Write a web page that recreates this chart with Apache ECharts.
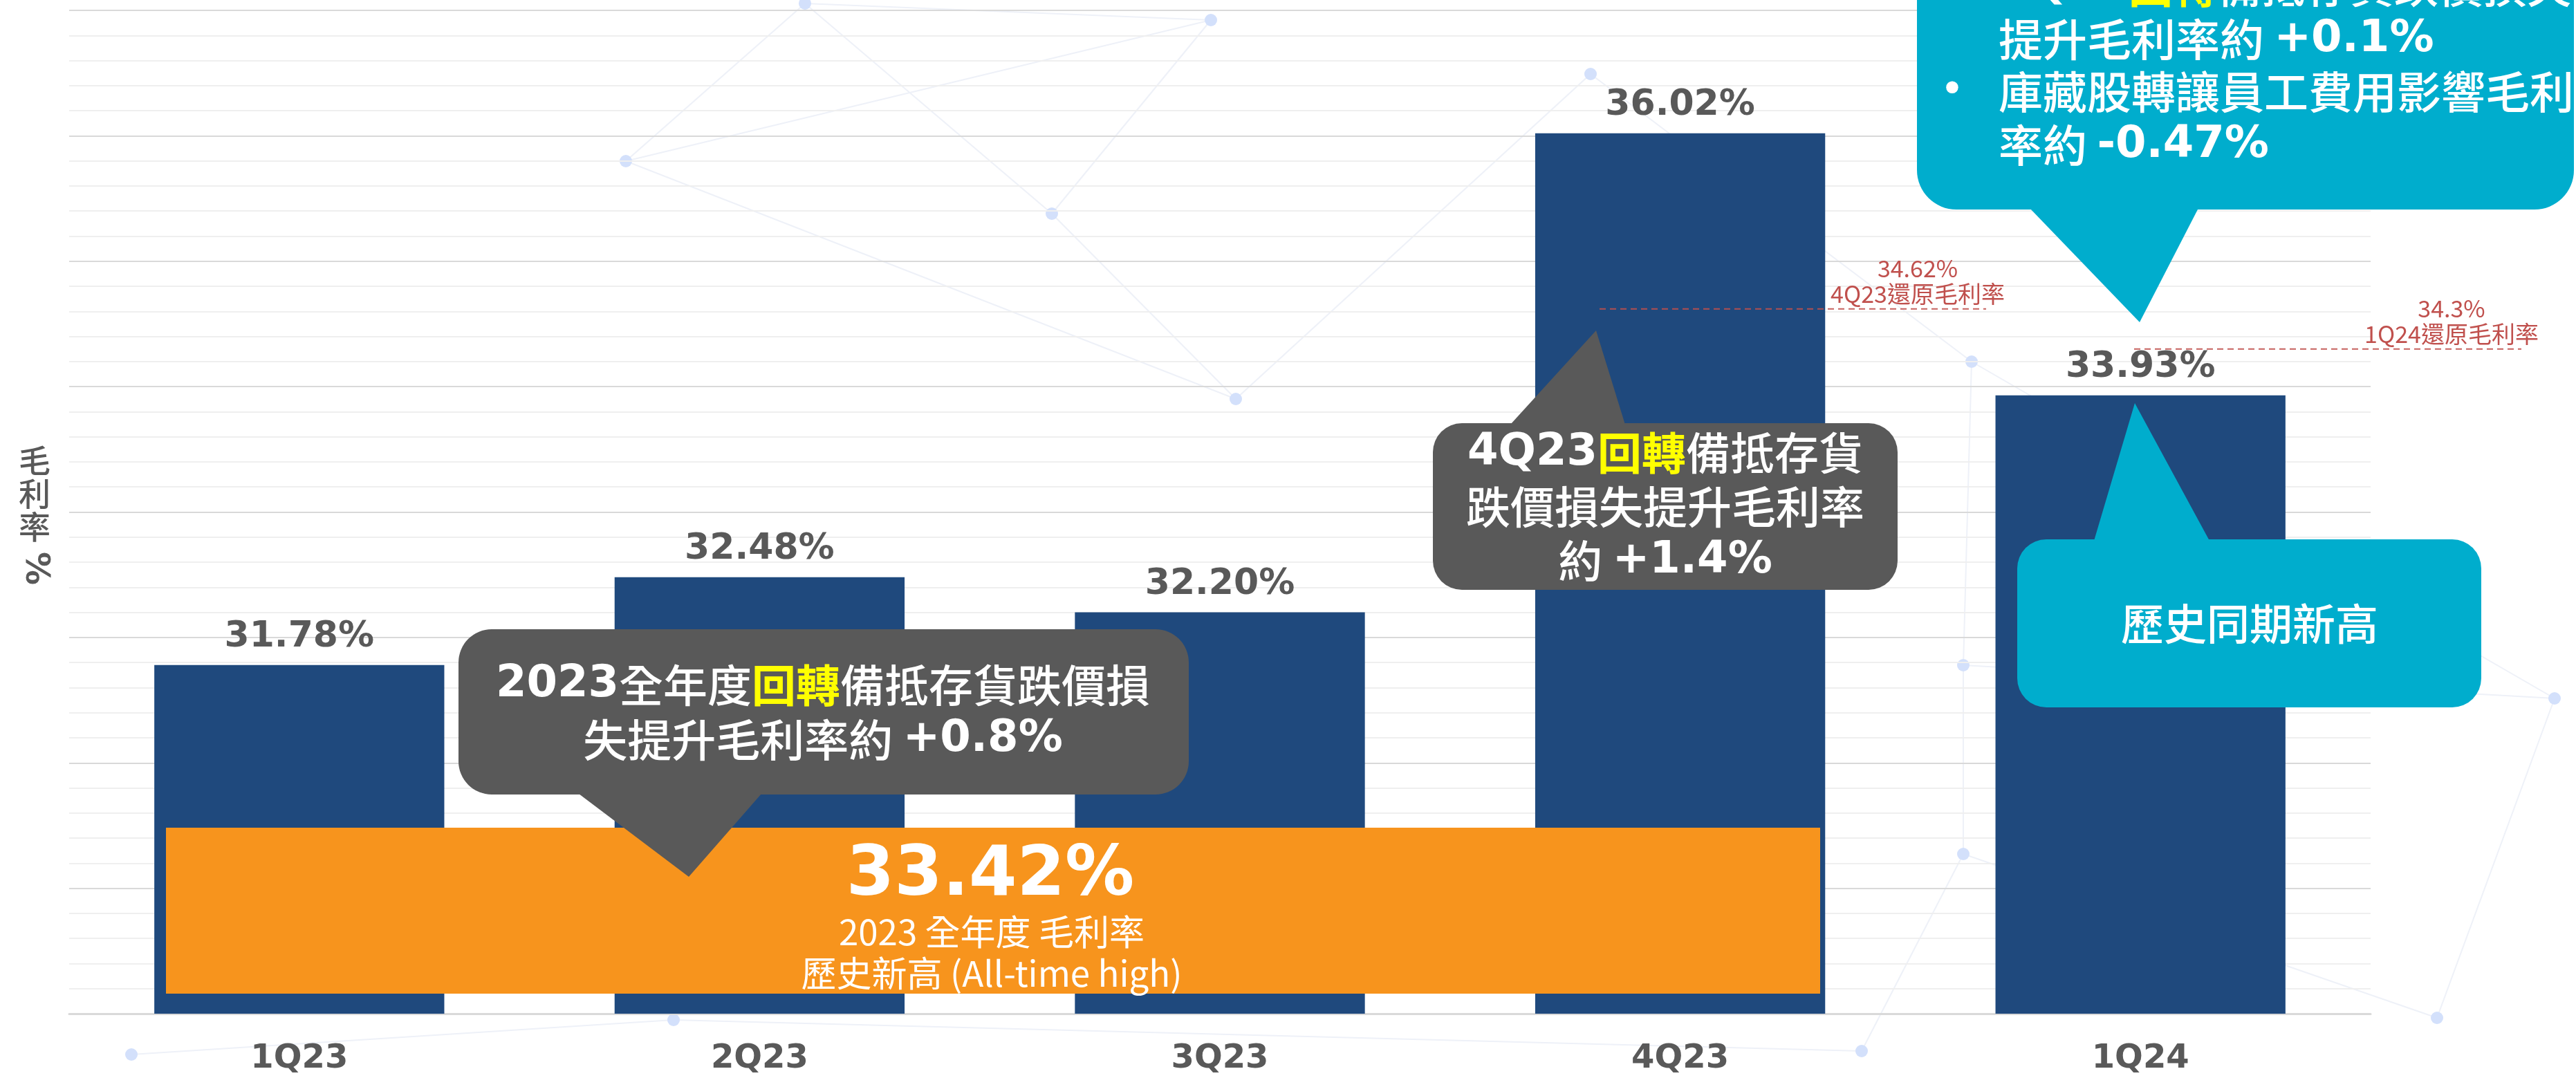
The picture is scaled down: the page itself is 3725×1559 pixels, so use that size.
<!DOCTYPE html>
<html><head><meta charset="utf-8">
<script src="https://cdn.jsdelivr.net/npm/echarts@6/dist/echarts.min.js"></script>
<style>html,body{margin:0;padding:0;background:#fff;overflow:hidden}#c{width:3725px;height:1559px}</style>
</head><body><div id="c"></div>
<script>
// ---- data ----
const categories = ['1Q23', '2Q23', '3Q23', '4Q23', '1Q24'];
const grossMargin = [31.78, 32.48, 32.20, 36.02, 33.93];
const restoredValues = [34.62, 34.3];
const restoredLabels = ['4Q23還原毛利率', '1Q24還原毛利率'];
const annualValue = 33.42;
const annualLines = ['2023 全年度 毛利率', '歷史新高 (All-time high)'];
const yAxisName = ['毛', '利', '率', '%'];
const yMin = 29, yMax = 37, yInterval = 1;

const LAT = '"DejaVu Sans", Verdana, sans-serif';
const CJK = '"Noto Sans CJK TC", "Noto Sans CJK SC", sans-serif';
const GREY = '#595959', NAVY = '#1F497D', TEAL = '#00ADCD', ORANGE = '#F7941D', RED = '#C0504D';

const chart = echarts.init(document.getElementById('c'));
chart.setOption({
  animation: false,
  backgroundColor: '#ffffff',
  grid: { left: 100, right: 297, top: 15, bottom: 93 },
  xAxis: {
    type: 'category', data: categories,
    axisTick: { show: false },
    axisLine: { lineStyle: { color: '#d9d9d9', width: 3 } },
    axisLabel: { margin: 42, fontSize: 48, fontWeight: 'bold', fontFamily: LAT, color: GREY }
  },
  yAxis: {
    type: 'value', min: yMin, max: yMax, interval: yInterval,
    axisLabel: { show: false }, axisLine: { show: false }, axisTick: { show: false },
    splitLine: { lineStyle: { color: '#d9d9d9', width: 2 } },
    minorTick: { show: false, splitNumber: 5 },
    minorSplitLine: { show: true, lineStyle: { color: '#efefef', width: 2 } }
  },
  series: [{
    type: 'bar', data: grossMargin, barCategoryGap: '37%', z: 2,
    itemStyle: { color: NAVY },
    label: {
      show: true, position: 'top', distance: 14,
      formatter: p => p.value.toFixed(2) + '%',
      fontSize: 52, fontWeight: 'bold', fontFamily: LAT, color: GREY
    }
  }]
});

function yPx(v) { return chart.convertToPixel({ yAxisIndex: 0 }, v); }
function txt(x, y, text, rich, extra) {
  return Object.assign({
    type: 'text', z: 20,
    style: {
      x: x, y: y, text: text, rich: rich,
      align: 'center', verticalAlign: 'middle', textAlign: 'center', textVerticalAlign: 'middle'
    }
  }, extra || {});
}
function callout(rect, r, tri, color, z) {
  return [
    { type: 'rect', z: z, shape: { x: rect[0], y: rect[1], width: rect[2], height: rect[3], r: r }, style: { fill: color } },
    { type: 'polygon', z: z, shape: { points: tri }, style: { fill: color } }
  ];
}
const richBase = (size, lh) => ({
  b: { fontFamily: LAT, fontWeight: 'bold', fontSize: size, fill: '#ffffff', lineHeight: lh },
  n: { fontFamily: CJK, fontWeight: 500, fontSize: size, fill: '#ffffff', lineHeight: lh },
  y: { fontFamily: CJK, fontWeight: 'bold', fontSize: size, fill: '#FFFF00', lineHeight: lh }
});

// faint background network decoration
const bgNodes = [[1164, 5], [1751, 29], [905, 233], [1521, 309], [2300, 107], [2851, 523], [2839, 962],
  [2839, 1235], [3694, 1010], [3524, 1472], [190, 1525], [2692, 1520], [974, 1475], [1787, 577]];
const bgLinks = [[0, 2], [0, 3], [0, 1], [1, 2], [1, 3], [3, 13], [4, 5], [5, 6], [6, 7], [5, 8], [6, 8], [7, 9], [8, 9],
  [10, 12], [12, 11], [11, 7], [13, 4], [2, 13]];
const g = [];
bgLinks.forEach(l => {
  const a = bgNodes[l[0]], b = bgNodes[l[1]];
  g.push({ type: 'line', z: -5, shape: { x1: a[0], y1: a[1], x2: b[0], y2: b[1] }, style: { stroke: '#eef1f8', lineWidth: 2 } });
});
bgNodes.forEach(n => g.push({ type: 'circle', z: -4, shape: { cx: n[0], cy: n[1], r: 9 }, style: { fill: '#d3e0fb' } }));

// y-axis name
g.push({ type: 'text', z: 20, style: { x: 50, y: 714, text: yAxisName.slice(0, 3).join('\n'), fontFamily: CJK, fontWeight: 500, fontSize: 46, lineHeight: 48, fill: GREY,
  align: 'center', verticalAlign: 'middle', textAlign: 'center', textVerticalAlign: 'middle' } });
g.push({ type: 'text', z: 20, x: 50, y: 822, rotation: -Math.PI / 2,
  style: { x: 0, y: 0, text: yAxisName[3], fontFamily: LAT, fontWeight: 'bold', fontSize: 48, fill: GREY,
    align: 'center', verticalAlign: 'middle', textAlign: 'center', textVerticalAlign: 'middle' } });

// restored gross margin dashed lines
const rl = [{ x1: 2313, x2: 2872, tx: 2773 }, { x1: 3086, x2: 3646, tx: 3545 }];
restoredValues.forEach((v, i) => {
  const y = yPx(v);
  g.push({ type: 'line', z: 8, shape: { x1: rl[i].x1, y1: y, x2: rl[i].x2, y2: y }, style: { stroke: RED, lineWidth: 2, lineDash: [9, 6], opacity: 0.9 } });
  g.push({ type: 'text', z: 8, style: { x: rl[i].tx, y: y - 40, text: String(v) + '%\n' + restoredLabels[i], fontFamily: CJK, fontSize: 34, lineHeight: 37, fill: RED,
      align: 'center', verticalAlign: 'middle', textAlign: 'center', textVerticalAlign: 'middle' } });
});

// orange annual box
g.push({ type: 'rect', z: 10, shape: { x: 240, y: 1197, width: 2392, height: 240 }, style: { fill: ORANGE } });
g.push(txt(1432, 1268, '{v|' + annualValue.toFixed(2) + '%}', { v: { fontFamily: LAT, fontWeight: 'bold', fontSize: 100, fill: '#ffffff' } }, { z: 12 }));
g.push(txt(1434, 1378, '{t|' + annualLines[0] + '}\n{t|' + annualLines[1] + '}', { t: { fontFamily: CJK, fontSize: 51, lineHeight: 60, fill: '#ffffff' } }, { z: 12 }));

// grey 2023 callout
callout([663, 910, 1056, 239], 48, [[837, 1148], [1101, 1148], [996, 1268]], GREY, 14).forEach(e => g.push(e));
g.push(txt(1190, 1030, '{b|2023}{n|全年度}{y|回轉}{n|備抵存貨跌價損}\n{n|失提升毛利率約 }{b|+0.8%}', richBase(64, 79), { z: 15 }));

// dark grey 4Q23 callout
callout([2072, 612, 672, 241], 42, [[2184, 614], [2350, 614], [2308, 478]], GREY, 14).forEach(e => g.push(e));
g.push(txt(2408, 733, '{b|4Q23}{y|回轉}{n|備抵存貨}\n{n|跌價損失提升毛利率}\n{n|約 }{b|+1.4%}', richBase(64, 78), { z: 15 }));

// teal 1Q24 callout (bottom)
callout([2917, 780, 671, 243], 42, [[3028, 782], [3195, 782], [3087, 583]], TEAL, 14).forEach(e => g.push(e));
g.push(txt(3253, 902, '{n|歷史同期新高}', { n: { fontFamily: CJK, fontWeight: 500, fontSize: 62, fill: '#ffffff' } }, { z: 15 }));

// teal top-right callout
callout([2772, -260, 950, 563], 57, [[2935, 301], [3179, 301], [3094, 466]], TEAL, 14).forEach(e => g.push(e));
const rb = richBase(64, 77);
const leftTxt = (y, text) => ({ type: 'text', z: 15, style: { x: 2890, y: y, text: text, rich: rb, align: 'left', verticalAlign: 'middle', textAlign: 'left', textVerticalAlign: 'middle' } });
g.push(leftTxt(-20, '{b|1Q24}{y|回轉}{n|備抵存貨跌價損失}'));
g.push(leftTxt(57, '{n|提升毛利率約 }{b|+0.1%}'));
g.push(leftTxt(133, '{n|庫藏股轉讓員工費用影響毛利}'));
g.push(leftTxt(210, '{n|率約 }{b|-0.47%}'));
[-20, 133].forEach(y => g.push(txt(2823, y, '{d|•}', { d: { fontFamily: LAT, fontSize: 60, fill: '#ffffff' } }, { z: 15 })));

chart.setOption({ graphic: { elements: g } });
</script></body></html>
